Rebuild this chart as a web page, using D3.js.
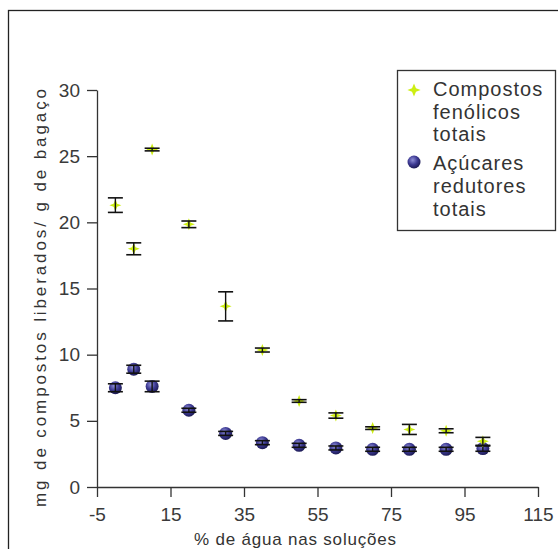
<!DOCTYPE html>
<html>
<head>
<meta charset="utf-8">
<script src="https://cdn.jsdelivr.net/npm/d3@7"></script>
<style>
  body { margin: 0; background: #fff; }
  svg text { font-family: "Liberation Sans", Arial, sans-serif; }
</style>
</head>
<body>
<div id="chart"></div>
<script>
// water content (%) in the extraction solutions
var agua = [0, 5, 10, 20, 30, 40, 50, 60, 70, 80, 90, 100];
// compostos fenólicos totais (mg/g) and error
var fenolicos = [21.3, 18.0, 25.5, 19.85, 13.65, 10.35, 6.5, 5.4, 4.45, 4.35, 4.25, 3.45];
var fenolicosErr = [0.55, 0.45, 0.1, 0.25, 1.1, 0.15, 0.1, 0.2, 0.1, 0.38, 0.15, 0.3];
// açúcares redutores totais (mg/g) and error
var acucares = [7.5, 8.9, 7.6, 5.8, 4.05, 3.35, 3.15, 2.95, 2.85, 2.85, 2.85, 2.9];
var acucaresErr = [0.3, 0.3, 0.4, 0.15, 0.15, 0.15, 0.15, 0.15, 0.15, 0.15, 0.15, 0.2];
var xTicks = [-5, 15, 35, 55, 75, 95, 115];
var yTicks = [0, 5, 10, 15, 20, 25, 30];

var W = 558, H = 549;
var svg = d3.select("#chart").append("svg")
    .attr("width", W).attr("height", H);

// outer frame (runs off the right/bottom of the picture)
svg.append("rect")
    .attr("x", 8.5).attr("y", 10.5)
    .attr("width", 600).attr("height", 600)
    .attr("fill", "none").attr("stroke", "#222").attr("stroke-width", 1.3);

var defs = svg.append("defs");
var grad = defs.append("radialGradient").attr("id", "ball")
    .attr("cx", "40%").attr("cy", "35%").attr("r", "65%");
grad.append("stop").attr("offset", "0%").attr("stop-color", "#8e8ed6");
grad.append("stop").attr("offset", "55%").attr("stop-color", "#3d3a93");
grad.append("stop").attr("offset", "100%").attr("stop-color", "#1c1a55");

var x = d3.scaleLinear().domain([-5, 115]).range([97, 538]);
var y = d3.scaleLinear().domain([0, 30]).range([487, 90]);

var tickColor = "#3a3a3a";

function styleAxis(g) {
    g.select(".domain").attr("stroke", "#333").attr("stroke-width", 1.3);
    g.selectAll(".tick line").attr("stroke", "#333").attr("stroke-width", 1.3);
    g.selectAll(".tick text").attr("fill", tickColor)
        .style("font-size", "19px").style("font-family", "Liberation Sans, Arial, sans-serif");
}

svg.append("g")
    .attr("transform", "translate(0,487)")
    .call(d3.axisBottom(x).tickValues(xTicks).tickFormat(d => String(d))
        .tickSize(10).tickSizeOuter(0).tickPadding(11))
    .call(styleAxis);

svg.append("g")
    .attr("transform", "translate(97,0)")
    .call(d3.axisLeft(y).tickValues(yTicks).tickFormat(d => String(d))
        .tickSize(10).tickSizeOuter(0).tickPadding(7))
    .call(styleAxis);

// axis titles
svg.append("text")
    .attr("x", 295).attr("y", 545)
    .attr("text-anchor", "middle")
    .attr("font-size", "17px").attr("fill", "#333")
    .attr("textLength", 202).attr("lengthAdjust", "spacing")
    .text("% de água nas soluções");

svg.append("text")
    .attr("transform", "translate(46,298) rotate(-90)")
    .attr("text-anchor", "middle")
    .attr("font-size", "17px").attr("fill", "#333")
    .attr("textLength", 418).attr("lengthAdjust", "spacing")
    .text("mg de compostos liberados/ g de bagaço");

// markers
var starPath = "M0,-6 L1.8,-1.5 L6,0 L1.8,1.5 L0,6 L-1.8,1.5 L-6,0 L-1.8,-1.5 Z";

function errorBars(vals, errs, cls) {
    var g = svg.append("g").attr("class", cls);
    var cap = 7.5;
    agua.forEach(function (a, i) {
        var cx = x(a), y1 = y(vals[i] + errs[i]), y2 = y(vals[i] - errs[i]);
        g.append("line").attr("x1", cx).attr("x2", cx).attr("y1", y1).attr("y2", y2)
            .attr("stroke", "#111").attr("stroke-width", 1.4);
        g.append("line").attr("x1", cx - cap).attr("x2", cx + cap).attr("y1", y1).attr("y2", y1)
            .attr("stroke", "#111").attr("stroke-width", 1.6);
        g.append("line").attr("x1", cx - cap).attr("x2", cx + cap).attr("y1", y2).attr("y2", y2)
            .attr("stroke", "#111").attr("stroke-width", 1.6);
    });
}

// açúcares (blue balls)
svg.append("g").selectAll("circle")
    .data(agua)
    .enter()
    .append("circle")
    .attr("cx", d => x(d))
    .attr("cy", (d, i) => y(acucares[i]))
    .attr("r", 6.5)
    .attr("fill", "url(#ball)");
errorBars(acucares, acucaresErr, "err-acucares");

// fenólicos (yellow-green stars)
svg.append("g").selectAll("path")
    .data(agua)
    .enter()
    .append("path")
    .attr("d", starPath)
    .attr("transform", (d, i) => "translate(" + x(d) + "," + y(fenolicos[i]) + ")")
    .attr("fill", "#cdee12");
errorBars(fenolicos, fenolicosErr, "err-fenolicos");

// legend
var leg = svg.append("g");
leg.append("rect")
    .attr("x", 397.5).attr("y", 70.5)
    .attr("width", 158).attr("height", 160)
    .attr("fill", "#fff").attr("stroke", "#333").attr("stroke-width", 1.3);
leg.append("path").attr("d", starPath)
    .attr("transform", "translate(414,90) scale(1.1)")
    .attr("fill", "#cdee12");
leg.append("circle").attr("cx", 414).attr("cy", 162).attr("r", 6.5).attr("fill", "url(#ball)");
var legLines = ["Compostos", "fenólicos", "totais", "Açúcares", "redutores", "totais"];
var legY = [96, 119, 141, 170, 193, 216];
leg.selectAll("text.lg")
    .data(legLines)
    .enter()
    .append("text")
    .attr("class", "lg")
    .attr("x", 433)
    .attr("y", (d, i) => legY[i])
    .attr("font-size", "20px")
    .attr("letter-spacing", "1px")
    .attr("fill", "#333")
    .text(d => d);
</script>
</body>
</html>
